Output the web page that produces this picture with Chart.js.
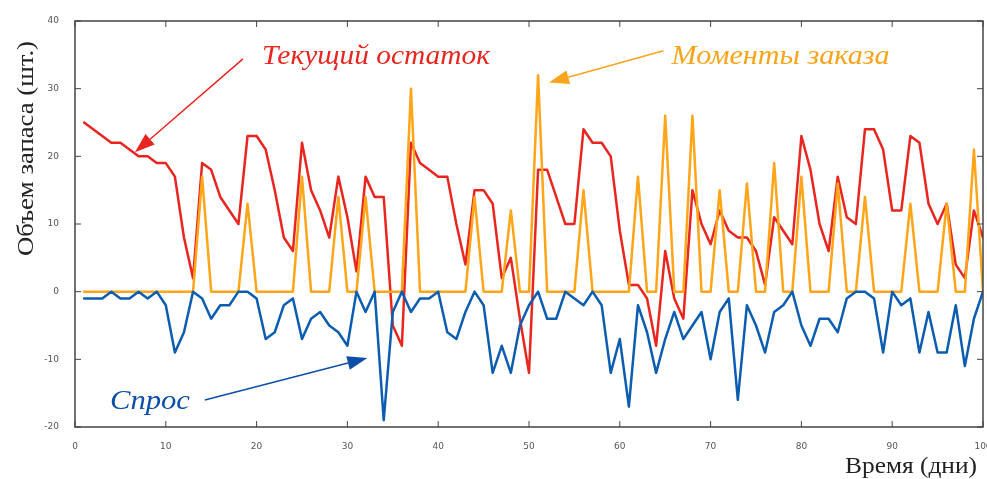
<!DOCTYPE html>
<html>
<head>
<meta charset="utf-8">
<script src="https://cdn.jsdelivr.net/npm/chart.js@4/dist/chart.umd.min.js"></script>
<style>
  html, body { margin: 0; padding: 0; background: #fff; }
  #wrap { width: 987px; height: 479px; }
</style>
</head>
<body>
<div id="wrap"><canvas id="stockChart"></canvas></div>
<script>
// дни моделирования 1..100
const days = Array.from({ length: 100 }, (_, i) => i + 1)

// Текущий остаток
const stockLevel = [
  25, 24, 23, 22, 22, 21, 20, 20, 19, 19,
  17, 8, 2, 19, 18, 14, 12, 10, 23, 23,
  21, 15, 8, 6, 22, 15, 12, 8, 17, 11,
  3, 17, 14, 14, -5, -8, 22, 19, 18, 17,
  17, 10, 4, 15, 15, 13, 2, 5, -4, -12,
  18, 18, 14, 10, 10, 24, 22, 22, 20, 9,
  1, 1, -1, -8, 6, -1, -4, 15, 10, 7,
  12, 9, 8, 8, 6, 1, 11, 9, 7, 23,
  18, 10, 6, 17, 11, 10, 24, 24, 21, 12,
  12, 23, 22, 13, 10, 13, 4, 2, 12, 8
]

// Моменты заказа
const orderMoments = [
  0, 0, 0, 0, 0, 0, 0, 0, 0, 0,
  0, 0, 0, 17, 0, 0, 0, 0, 13, 0,
  0, 0, 0, 0, 17, 0, 0, 0, 14, 0,
  0, 14, 0, 0, 0, 0, 30, 0, 0, 0,
  0, 0, 0, 14, 0, 0, 0, 12, 0, 0,
  32, 0, 0, 0, 0, 15, 0, 0, 0, 0,
  0, 17, 0, 0, 26, 0, 0, 26, 0, 0,
  15, 0, 0, 16, 0, 0, 19, 0, 0, 17,
  0, 0, 0, 16, 0, 0, 14, 0, 0, 0,
  0, 13, 0, 0, 0, 13, 0, 0, 21, 0
]

// Спрос
const demand = [
  -1, -1, -1, 0, -1, -1, 0, -1, 0, -2,
  -9, -6, 0, -1, -4, -2, -2, 0, 0, -1,
  -7, -6, -2, -1, -7, -4, -3, -5, -6, -8,
  0, -3, 0, -19, -3, 0, -3, -1, -1, 0,
  -6, -7, -3, 0, -2, -12, -8, -12, -5, -2,
  0, -4, -4, 0, -1, -2, 0, -2, -12, -7,
  -17, -2, -6, -12, -7, -3, -7, -5, -3, -10,
  -3, -1, -16, -2, -5, -9, -3, -2, 0, -5,
  -8, -4, -4, -6, -1, 0, 0, -1, -9, 0,
  -2, -1, -9, -3, -9, -9, -2, -11, -4, 0
]

const xTicks = [0, 10, 20, 30, 40, 50, 60, 70, 80, 90, 100]
const yTicks = [-20, -10, 0, 10, 20, 30, 40]

// подписи со стрелками (в координатах данных)
const notes = [
  { text: 'Текущий остаток', color: '#e8261f', at: [20.6, 33.6], width: 228, from: [18.5, 34.4], to: [6.6, 20.6] },
  { text: 'Моменты заказа', color: '#f9a41a', at: [65.7, 33.6], width: 218, from: [64.8, 35.6], to: [52.2, 30.9] },
  { text: 'Спрос', color: '#0d4fa8', at: [3.85, -17.4], width: 80, from: [14.3, -16], to: [32.2, -9.8] }
]

const toPoints = arr => arr.map((v, i) => ({ x: days[i], y: v }))

// текст, растянутый до нужной ширины
function fillTextWidth(ctx, text, x, y, w) {
  const m = ctx.measureText(text).width
  ctx.save()
  ctx.translate(x, y)
  ctx.scale(w / m, 1)
  ctx.fillText(text, 0, 0)
  ctx.restore()
}

// рамка, внутренние засечки, подписи осей и стрелки
const matlabFrame = {
  id: 'matlabFrame',
  afterDatasetsDraw(chart) {
    const { ctx, chartArea: a, scales: { x, y } } = chart
    ctx.save()
    ctx.strokeStyle = '#444'
    ctx.lineWidth = 1.5
    ctx.strokeRect(a.left, a.top, a.right - a.left, a.bottom - a.top)
    ctx.lineWidth = 1
    xTicks.forEach(t => {
      const px = x.getPixelForValue(t)
      ctx.beginPath()
      ctx.moveTo(px, a.bottom); ctx.lineTo(px, a.bottom - 6)
      ctx.moveTo(px, a.top); ctx.lineTo(px, a.top + 6)
      ctx.stroke()
    })
    yTicks.forEach(t => {
      const py = y.getPixelForValue(t)
      ctx.beginPath()
      ctx.moveTo(a.left, py); ctx.lineTo(a.left + 6, py)
      ctx.moveTo(a.right, py); ctx.lineTo(a.right - 6, py)
      ctx.stroke()
    })

    // подписи осей
    ctx.fillStyle = '#222'
    ctx.font = '23px "Liberation Serif", serif'
    ctx.textAlign = 'left'
    ctx.textBaseline = 'alphabetic'
    fillTextWidth(ctx, 'Время (дни)', 845, 473, 132)
    ctx.save()
    ctx.translate(33, 256)
    ctx.rotate(-Math.PI / 2)
    fillTextWidth(ctx, 'Объем запаса (шт.)', 0, 0, 215)
    ctx.restore()

    // аннотации
    notes.forEach(n => {
      const tx = x.getPixelForValue(n.at[0]), ty = y.getPixelForValue(n.at[1])
      ctx.fillStyle = n.color
      ctx.strokeStyle = n.color
      ctx.font = 'italic 28px "Liberation Serif", serif'
      ctx.textAlign = 'left'
      fillTextWidth(ctx, n.text, tx, ty, n.width)

      const x1 = x.getPixelForValue(n.from[0]), y1 = y.getPixelForValue(n.from[1])
      const x2 = x.getPixelForValue(n.to[0]), y2 = y.getPixelForValue(n.to[1])
      const ang = Math.atan2(y2 - y1, x2 - x1)
      const len = 20, half = 7
      const bx = x2 - len * Math.cos(ang), by = y2 - len * Math.sin(ang)
      ctx.lineWidth = 1.5
      ctx.beginPath()
      ctx.moveTo(x1, y1); ctx.lineTo(bx, by)
      ctx.stroke()
      ctx.beginPath()
      ctx.moveTo(x2, y2)
      ctx.lineTo(bx + half * Math.sin(ang), by - half * Math.cos(ang))
      ctx.lineTo(bx - half * Math.sin(ang), by + half * Math.cos(ang))
      ctx.closePath()
      ctx.fill()
    })
    ctx.restore()
  }
}

const ctx = document.getElementById('stockChart').getContext('2d')
new Chart(ctx, {
  type: 'line',
  data: {
    datasets: [
      { label: 'Спрос', data: toPoints(demand), borderColor: '#0c5cb0' },
      { label: 'Моменты заказа', data: toPoints(orderMoments), borderColor: '#ffa519' },
      { label: 'Текущий остаток', data: toPoints(stockLevel), borderColor: '#e8261f' }
    ]
  },
  options: {
    responsive: true,
    maintainAspectRatio: false,
    animation: false,
    elements: {
      point: { radius: 0 },
      line: { tension: 0, borderWidth: 2.5, borderJoinStyle: 'round', borderCapStyle: 'round' }
    },
    layout: { padding: { top: 21, right: 4, left: 0, bottom: 0 } },
    plugins: { legend: { display: false }, tooltip: { enabled: false } },
    scales: {
      x: {
        type: 'linear', min: 0, max: 100,
        afterBuildTicks: s => { s.ticks = xTicks.map(v => ({ value: v })) },
        afterFit: s => { s.height = 52; s.paddingLeft = 0; s.paddingRight = 0 },
        grid: { display: false },
        border: { display: false },
        ticks: { color: '#555', font: { size: 9, family: 'DejaVu Sans' }, padding: 6, maxRotation: 0 }
      },
      y: {
        min: -20, max: 40,
        afterBuildTicks: s => { s.ticks = yTicks.map(v => ({ value: v })) },
        afterFit: s => { s.width = 75; s.paddingTop = 0; s.paddingBottom = 0 },
        grid: { display: false },
        border: { display: false },
        ticks: { color: '#555', font: { size: 9, family: 'DejaVu Sans' }, padding: 8 }
      }
    }
  },
  plugins: [matlabFrame]
})
</script>
</body>
</html>
